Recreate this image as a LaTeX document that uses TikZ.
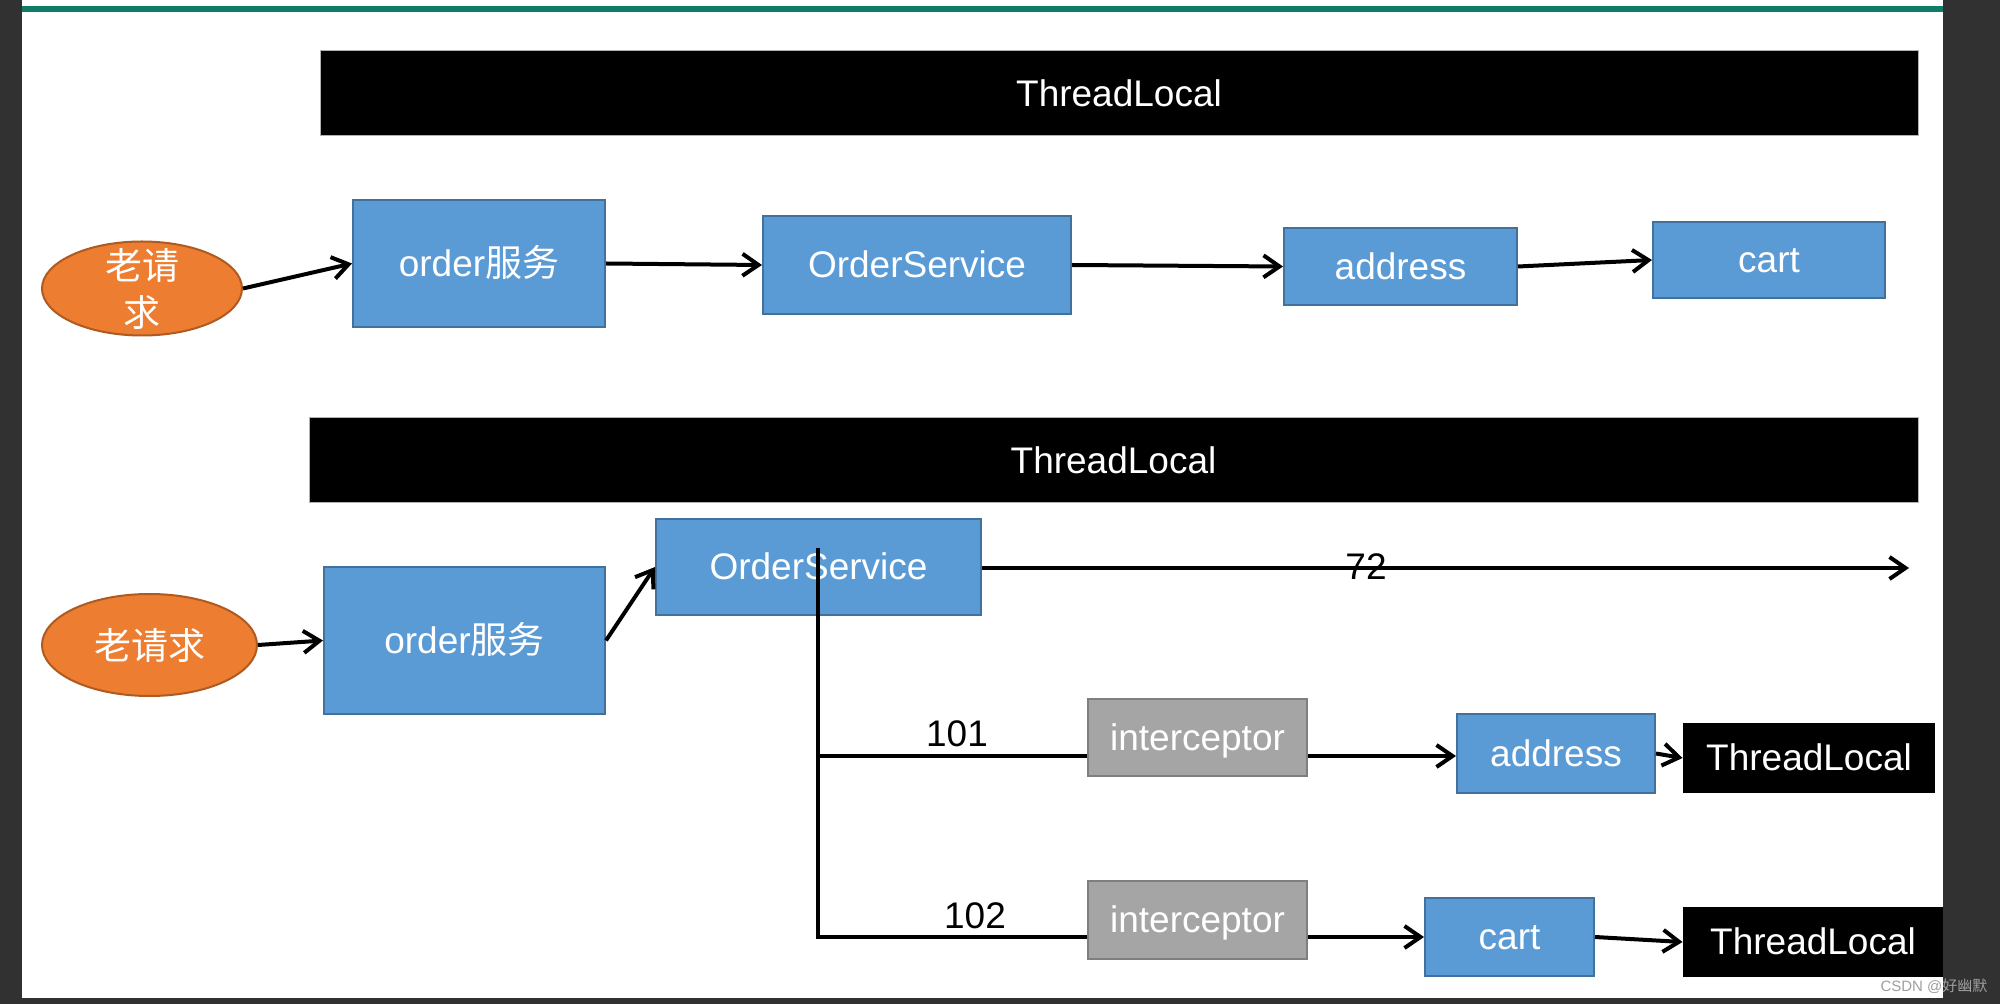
\documentclass[tikz,border=0pt]{standalone}
\usepackage{fontspec}
\setmainfont{Liberation Sans}
\newfontfamily\cjk{Noto Sans CJK SC}
\usetikzlibrary{arrows.meta,shapes.geometric}
\definecolor{bfill}{HTML}{5B9BD5}
\definecolor{bline}{HTML}{41719C}
\definecolor{ofill}{HTML}{ED7D31}
\definecolor{oline}{HTML}{AE5A21}
\definecolor{gfill}{HTML}{A5A5A5}
\definecolor{gline}{HTML}{7F7F7F}
\definecolor{teal1}{HTML}{107C68}
\definecolor{darkside}{HTML}{313131}
\tikzset{
  lbl/.style={font=\fontsize{18.5}{22.5}\selectfont},
  fixline/.style={text height=16.7pt, text depth=3.9pt},
  bluebox/.style={lbl, fixline, rectangle, draw=bline, line width=1pt, fill=bfill, text=white, inner sep=0pt},
  graybox/.style={lbl, fixline, rectangle, draw=gline, line width=1pt, fill=gfill, text=white, inner sep=0pt},
  blackbar/.style={lbl, fixline, rectangle, draw=gray!60, line width=0.5pt, fill=black, text=white, inner sep=0pt},
  oval/.style={lbl, ellipse, draw=oline, line width=1pt, fill=ofill, text=white, inner sep=0pt, align=center},
  conn/.style={line width=2pt},
  arr/.style={conn, -{Straight Barb[length=8pt,width=11pt]}},
  num/.style={lbl, text=black, inner sep=0pt}
}
\begin{document}
\begin{tikzpicture}[x=0.5pt, y=-0.5pt]
\useasboundingbox (0,0) rectangle (2000,1004);
% screenshot frame
\fill[white] (0,0) rectangle (2000,1004);
\fill[darkside] (0,0) rectangle (22,1004);
\fill[darkside] (1943,0) rectangle (2000,1004);
\fill[darkside] (0,998) rectangle (2000,1004);
\fill[teal1] (22,6) rectangle (1943,12);

% top row
\node[blackbar, minimum width=799pt, minimum height=42.5pt] (tl1) at (1119,93.5) {ThreadLocal};
\node[oval, inner ysep=-12pt, minimum width=100pt, minimum height=47pt] (e1) at (142,288.5) {{\cjk 老请}\\[1pt]{\cjk 求}};
\node[bluebox, minimum width=126pt, minimum height=63.5pt] (o1) at (479,263.5) {order{\cjk 服务}};
\node[bluebox, minimum width=154pt, minimum height=49pt] (os1) at (917,265) {OrderService};
\node[bluebox, minimum width=116.5pt, minimum height=38.5pt] (a1) at (1400.5,266.5) {address};
\node[bluebox, minimum width=116pt, minimum height=38pt] (c1) at (1769,260) {cart};

\draw[arr] (e1.east) -- (o1.west);
\draw[arr] (o1.east) -- (os1.west);
\draw[arr] (os1.east) -- (a1.west);
\draw[arr] (a1.east) -- (c1.west);

% bottom part
\node[blackbar, minimum width=804.5pt, minimum height=42.5pt] (tl2) at (1113.5,460.5) {ThreadLocal};
\node[oval, minimum width=107.5pt, minimum height=51pt] (e2) at (149.5,645) {{\cjk 老请求}};
\node[bluebox, minimum width=140.5pt, minimum height=73.5pt] (o2) at (464.5,640.5) {order{\cjk 服务}};
\node[bluebox, minimum width=162.5pt, minimum height=48pt] (os2) at (818.5,567) {OrderService};
\node[graybox, minimum width=109.5pt, minimum height=38.5pt] (i1) at (1197.5,737.5) {interceptor};
\node[bluebox, minimum width=99pt, minimum height=39.5pt] (a2) at (1556,753.5) {address};
\node[blackbar, draw=none, minimum width=126pt, minimum height=35pt] (tl3) at (1809,758) {ThreadLocal};
\node[graybox, minimum width=109.5pt, minimum height=39pt] (i2) at (1197.5,920) {interceptor};
\node[bluebox, minimum width=84.5pt, minimum height=39pt] (c2) at (1509.5,937) {cart};
\node[blackbar, draw=none, minimum width=130pt, minimum height=35pt] (tl4) at (1813,942) {ThreadLocal};

\coordinate (vtop) at (818,548);
\coordinate (v1) at (818,756);
\coordinate (v2) at (818,937);
\coordinate (end72) at (1909,568);

\draw[arr] (e2.east) -- (o2.west);
\draw[arr] (o2.east) -- (os2.west);
\draw[arr] (os2.east |- end72) -- (end72);
\draw[conn] (vtop) -- (v2) -- (i2.west |- v2);
\draw[conn] (v1) -- (i1.west |- v1);
\draw[arr] (i1.east |- v1) -- (a2.west |- v1);
\draw[arr] (a2.east) -- (tl3.west);
\draw[arr] (i2.east |- v2) -- (c2.west);
\draw[arr] (c2.east) -- (tl4.west);

\node[num] (n72) at (1366,567) {72};
\node[num] (n101) at (957,734) {101};
\node[num] (n102) at (975,916) {102};

% redraw right strip over clipped bar
\fill[darkside] (1943,880) rectangle (2000,1004);
\node[font=\fontsize{7.5}{9}\selectfont, text=gray!75, inner sep=0pt] (wm) at (1934,986) {CSDN @{\cjk 好幽默}};
\end{tikzpicture}
\end{document}
